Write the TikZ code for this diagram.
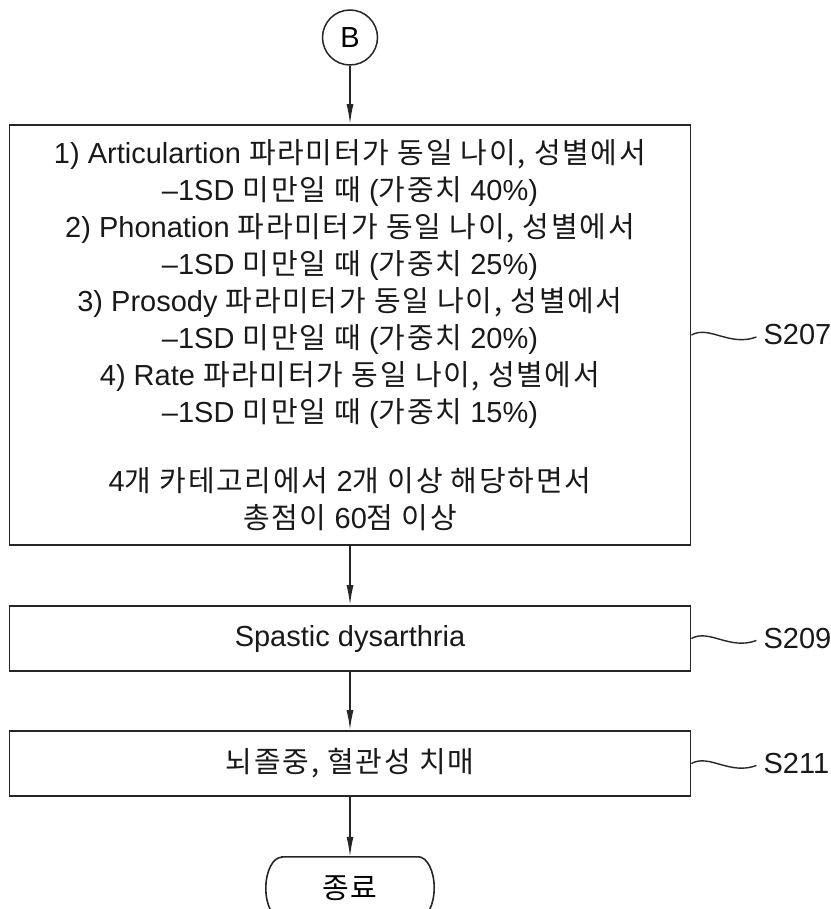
\documentclass[tikz,border=0pt]{standalone}
\usepackage{fontspec}
\setmainfont{Liberation Sans}
\newfontfamily\kr[LetterSpace=6]{Noto Sans CJK KR}
\newcommand{\K}[1]{{\kr #1}}
\usetikzlibrary{arrows.meta,calc}
\begin{document}
\begin{tikzpicture}[x=1pt,y=1pt,
  box/.style={draw=black!85, line width=1.8pt, minimum width=681pt, inner sep=0pt, align=center, font=\fontsize{29}{37}\selectfont, text=black!90},
  arr/.style={draw=black!85, line width=1.4pt, -{Latex[length=20pt,width=7pt]}},
  sq/.style={draw=black!85, line width=1.4pt},
  lbl/.style={anchor=west, inner sep=0pt, font=\fontsize{29}{35}\selectfont, text=black!90}]
\useasboundingbox (0,0) rectangle (830,-909);
\node[draw=black!85,line width=1.5pt,circle,minimum size=55pt,inner sep=0pt,font=\fontsize{29}{35}\selectfont] (B) at (350,-37.5) {B};
\node[box,minimum height=420pt] (s207) at (350,-335) {1) Articulartion \K{파라미터가 동일 나이, 성별에서}\\
–1SD \K{미만일 때} (\K{가중치} 40\%)\\
2) Phonation \K{파라미터가 동일 나이, 성별에서}\\
–1SD \K{미만일 때} (\K{가중치} 25\%)\\
3) Prosody \K{파라미터가 동일 나이, 성별에서}\\
–1SD \K{미만일 때} (\K{가중치} 20\%)\\
4) Rate \K{파라미터가 동일 나이, 성별에서}\\
–1SD \K{미만일 때} (\K{가중치} 15\%)\\[32pt]
4\K{개 카테고리에서} 2\K{개 이상 해당하면서}\\
\K{총점이} 60\K{점 이상}};
\node[box,minimum height=65pt] (s209) at (350,-638.5) {Spastic dysarthria};
\node[box,minimum height=65pt] (s211) at (350,-763.5) {\K{뇌졸중, 혈관성 치매}};
\node[minimum width=168pt,minimum height=62pt,inner sep=0pt,font=\fontsize{29}{35}\selectfont] (end) at (350,-888) {\K{종료}};
\draw[line width=1.6pt, draw=black!85] ($(end.north west)+(16,0)$) -- ($(end.north east)+(-16,0)$) arc[start angle=90,end angle=-90,x radius=16,y radius=31] -- ($(end.south west)+(16,0)$) arc[start angle=270,end angle=90,x radius=16,y radius=31] -- cycle;
\draw[arr] (B) -- (s207);
\draw[arr] (s207) -- (s209);
\draw[arr] (s209) -- (s211);
\draw[arr] (s211) -- (end);
\coordinate (c207) at ($(s207.east)+(65,-2)$);
\coordinate (c209) at ($(s209.east)+(65,-2)$);
\coordinate (c211) at ($(s211.east)+(65,-2)$);
\draw[sq] (s207.east) .. controls +(18,10) and +(-27,-10) .. (c207);
\draw[sq] (s209.east) .. controls +(18,10) and +(-27,-10) .. (c209);
\draw[sq] (s211.east) .. controls +(18,10) and +(-27,-10) .. (c211);
\node[lbl] (t207) at ($(c207)+(7,2)$) {S207};
\node[lbl] (t209) at ($(c209)+(7,2)$) {S209};
\node[lbl] (t211) at ($(c211)+(7,2)$) {S211};
\end{tikzpicture}
\end{document}
